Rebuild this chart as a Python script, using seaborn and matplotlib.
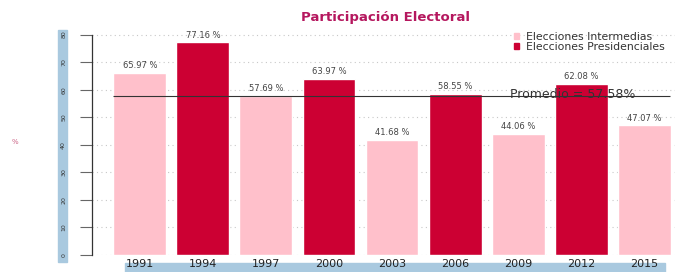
import matplotlib
matplotlib.use("Agg")
import matplotlib.pyplot as plt
import seaborn as sns
import pandas as pd
from matplotlib.patches import Rectangle, Patch

# data
years = ["1991", "1994", "1997", "2000", "2003", "2006", "2009", "2012", "2015"]
turnout = [65.97, 77.16, 57.69, 63.97, 41.68, 58.55, 44.06, 62.08, 47.07]
kind = ["Elecciones Intermedias", "Elecciones Presidenciales",
        "Elecciones Intermedias", "Elecciones Presidenciales",
        "Elecciones Intermedias", "Elecciones Presidenciales",
        "Elecciones Intermedias", "Elecciones Presidenciales",
        "Elecciones Intermedias"]
promedio = 57.58

PINK = "#FFC0CB"
RED = "#CC0033"
palette = {"Elecciones Intermedias": PINK, "Elecciones Presidenciales": RED}

df = pd.DataFrame({"year": years, "turnout": turnout, "kind": kind})

sns.set_style("white")
plt.rcParams["font.family"] = ["DejaVu Sans"]

fig = plt.figure(figsize=(6.75, 2.72), dpi=100)

# light blue bands behind tick labels (own background axes)
bg = fig.add_axes([0, 0, 1, 1], zorder=0)
bg.set_axis_off()
bg.set_xlim(0, 675)
bg.set_ylim(272, 0)
bg.add_patch(Rectangle((58, 30), 9, 232, color="#a9c9df"))
bg.add_patch(Rectangle((125, 263), 540, 9, color="#a9c9df"))

ax = fig.add_axes([92 / 675, 17 / 272, 583 / 675, 226 / 272], zorder=2)
ax.patch.set_alpha(0)

sns.barplot(data=df, x="year", y="turnout", hue="kind", palette=palette,
            dodge=False, width=0.84, saturation=1, legend=False, ax=ax)

ax.set_xlim(-0.76, 8.49)
ax.set_ylim(0, 82)
ax.set_yticks(range(0, 90, 10))

# dotted grid
for t in range(0, 90, 10):
    ax.axhline(t, color="#c8c8c8", ls=(0, (1, 3)), lw=0.8, zorder=0)

# value labels
for i, v in enumerate(turnout):
    ax.text(i, v + 1.0, f"{v:.2f} %", ha="center", va="bottom",
            fontsize=6, color="#444444")

# average line
ax.hlines(promedio, -0.43, 8.41, color="#333333", lw=0.8, zorder=3)
ax.text(6.86, promedio + 0.8, f"Promedio = {promedio}%", ha="center",
        va="center", fontsize=9, color="#333333", zorder=4)

# axis styling (R-like)
for s in ["top", "right", "bottom"]:
    ax.spines[s].set_visible(False)
ax.spines["left"].set_bounds(0, 80)
ax.spines["left"].set_color("#333333")
ax.spines["left"].set_linewidth(0.9)
ax.tick_params(axis="y", left=True, length=8.6, width=0.8, color="#666666",
               labelsize=4.5, labelcolor="#333333", pad=10, labelrotation=90)
ax.tick_params(axis="x", bottom=False, length=0, labelsize=8,
               labelcolor="#222222", pad=3)
for lab in ax.get_yticklabels():
    lab.set_va("center")
ax.set_xlabel("")
ax.set_ylabel("%", color="#cc6688", fontsize=5, rotation=0)
ax.yaxis.set_label_coords(-0.132, 0.487)

# legend
handles = [Patch(color=PINK, label="Elecciones Intermedias"),
           Patch(color=RED, label="Elecciones Presidenciales")]
ax.legend(handles=handles, loc="upper right", bbox_to_anchor=(1.0, 1.03),
          frameon=False, fontsize=7.8, handlelength=0.5, handleheight=0.5,
          handletextpad=0.7, labelspacing=0.0, labelcolor="#333333")

fig.text(385 / 675, 1 - 17 / 272, "Participación Electoral", ha="center",
         va="center", fontsize=9.5, fontweight="bold", color="#B5175E")

fig.savefig("out.png", dpi=100)
